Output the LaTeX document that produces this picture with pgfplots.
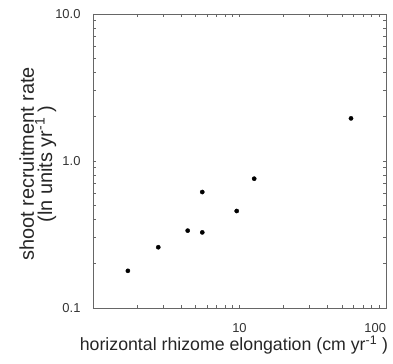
\documentclass[border=0pt]{standalone}
\usepackage{pgfplots}
\pgfplotsset{compat=1.18}
\usetikzlibrary{calc}
\usepackage{fontspec}
\setmainfont{Liberation Sans}
\begin{document}
\begin{tikzpicture}[x=1bp,y=1bp]
\begin{axis}[
  scale only axis,
  width=293bp, height=294bp,
  xmode=log, ymode=log,
  xmin=1, xmax=100, ymin=0.1, ymax=10,
  xtick={1,10,100}, xticklabels={,10,\llap{100}},
  ytick={0.1,1,10}, yticklabels={0.1,1.0,10.0},
  minor tick num=0,
  minor xtick={}, minor ytick={},
  tick align=inside,
  major tick length=3bp,
  axis line style={black!60, line width=0.9pt},
  every tick/.style={black!60, line width=0.8pt},
  /pgf/number format/assume math mode=true,
  tick label style={font=\fontsize{13}{14}\selectfont, text=black!80},
  xticklabel style={yshift=-12bp},
  yticklabel style={xshift=-9bp},
  xlabel={horizontal rhizome elongation (cm yr\textsuperscript{-1} )},
  ylabel={shoot recruitment rate\\(ln units yr\textsuperscript{-1} )},
  ylabel style={at={(axis description cs:-0.188,0.49)}, anchor=center, rotate=0,
    align=center, font=\fontsize{20}{17}\selectfont, text=black!85},
  xlabel style={at={(axis description cs:0.481,-0.126)}, anchor=center,
    font=\fontsize{17.8}{18}\selectfont, text=black!85},
]
\addplot[only marks, mark=*, mark size=2.1bp, black] coordinates {
  (1.73,0.179) (2.79,0.259) (4.43,0.336) (5.57,0.327) (5.57,0.615)
  (9.57,0.457) (12.6,0.758) (57.7,1.95)
};
\end{axis}
\pgfresetboundingbox
\path ($(current axis.south west)+(-93bp,-56bp)$) rectangle ($(current axis.north east)+(7bp,14bp)$);
\end{tikzpicture}
\end{document}
